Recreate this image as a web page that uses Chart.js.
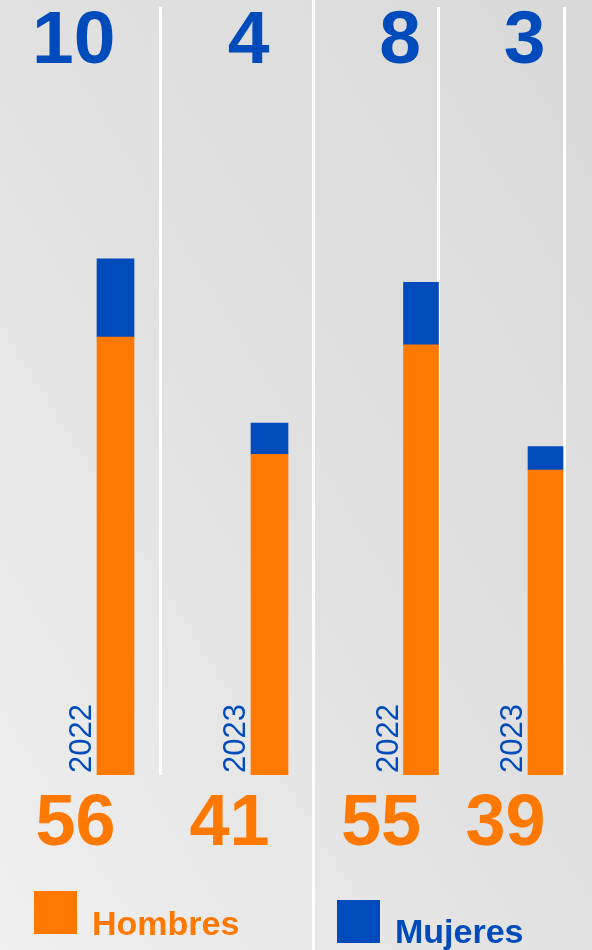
<!DOCTYPE html>
<html>
<head>
<meta charset="utf-8">
<script src="https://cdn.jsdelivr.net/npm/chart.js@4"></script>
<style>
  html, body {
    margin: 0;
    padding: 0;
    width: 592px;
    height: 950px;
    overflow: hidden;
  }
  body {
    position: relative;
    background: linear-gradient(to top right, #f0f0f0 0%, #e2e2e2 45%, #d9d9d9 100%);
    font-family: "Liberation Sans", Arial, sans-serif;
  }
  .divider {
    position: absolute;
    width: 3px;
    background: #ffffff;
  }
  canvas {
    position: absolute;
    top: 0;
  }
  .legend-box {
    position: absolute;
    width: 43px;
    height: 43px;
  }
  .legend-text {
    position: absolute;
    font-weight: bold;
    font-size: 34px;
    line-height: 34px;
    white-space: nowrap;
  }
</style>
</head>
<body>
<div class="divider" style="left:159px; top:7px; height:768px;"></div>
<div class="divider" style="left:312px; top:0; height:950px;"></div>
<div class="divider" style="left:437px; top:7px; height:768px;"></div>
<div class="divider" style="left:563px; top:7px; height:768px;"></div>

<canvas id="leftChart" width="360" height="950" style="left:0;"></canvas>
<canvas id="rightChart" width="320" height="950" style="left:300px;"></canvas>

<div id="legend"></div>

<script>
// Data
const years = ['2022', '2023', '2022', '2023'];
const hombres = [56, 41, 55, 39];
const mujeres = [10, 4, 8, 3];
const seriesNames = ['Hombres', 'Mujeres'];
const seriesColors = ['#ff7800', '#004bbb'];

const FONT = '"Liberation Sans", Arial, sans-serif';

// Labels: year beside each bar, women on top, men at the bottom
const labelPlugin = {
  id: 'barLabels',
  afterDatasetsDraw(chart) {
    const ctx = chart.ctx;
    const base = chart.scales.y.getPixelForValue(0);
    const menMeta = chart.getDatasetMeta(0);
    const womenData = chart.data.datasets[1].data;
    const menData = chart.data.datasets[0].data;

    menMeta.data.forEach((bar, i) => {
      const left = bar.x - bar.width / 2;

      // year, rotated
      ctx.save();
      ctx.translate(left - 6, base);
      ctx.rotate(-Math.PI / 2);
      ctx.font = '31px ' + FONT;
      ctx.fillStyle = seriesColors[1];
      ctx.textAlign = 'left';
      ctx.textBaseline = 'alphabetic';
      ctx.fillText(chart.data.labels[i], 2, 0);
      ctx.restore();

      ctx.save();
      ctx.textAlign = 'right';
      ctx.textBaseline = 'alphabetic';

      ctx.font = 'bold 75px ' + FONT;
      ctx.fillStyle = seriesColors[1];
      ctx.fillText(String(womenData[i]), bar.x, 63);

      ctx.font = 'bold 72px ' + FONT;
      ctx.fillStyle = seriesColors[0];
      ctx.fillText(String(menData[i]), bar.x, 845);
      ctx.restore();
    });
  }
};

function makeChart(id, from, to, padding, thickness) {
  const ctx = document.getElementById(id).getContext('2d');
  return new Chart(ctx, {
    type: 'bar',
    data: {
      labels: years.slice(from, to),
      datasets: [
        {
          label: seriesNames[0],
          data: hombres.slice(from, to),
          backgroundColor: seriesColors[0],
          borderWidth: 0,
          barThickness: thickness
        },
        {
          label: seriesNames[1],
          data: mujeres.slice(from, to),
          backgroundColor: seriesColors[1],
          borderWidth: 0,
          barThickness: thickness
        }
      ]
    },
    options: {
      responsive: false,
      animation: false,
      events: [],
      layout: { padding: padding },
      plugins: {
        legend: { display: false },
        tooltip: { enabled: false }
      },
      scales: {
        x: { stacked: true, display: false, offset: true },
        y: { stacked: true, display: false, min: 0, max: 90 }
      }
    },
    plugins: [labelPlugin]
  });
}

makeChart('leftChart', 0, 2, { top: 71.2, bottom: 175, left: 38.5, right: 13.5 }, 37);
makeChart('rightChart', 2, 4, { top: 71.2, bottom: 175, left: 58.75, right: 12.25 }, 35);

// Legend split under the two panels
const legend = document.getElementById('legend');
const legendPos = [
  { box: [34, 891], text: [92, 906] },
  { box: [337, 900], text: [395, 914] }
];
seriesNames.forEach((name, i) => {
  const box = document.createElement('div');
  box.className = 'legend-box';
  box.style.left = legendPos[i].box[0] + 'px';
  box.style.top = legendPos[i].box[1] + 'px';
  box.style.background = seriesColors[i];
  legend.appendChild(box);

  const txt = document.createElement('div');
  txt.className = 'legend-text';
  txt.style.left = legendPos[i].text[0] + 'px';
  txt.style.top = legendPos[i].text[1] + 'px';
  txt.style.color = seriesColors[i];
  txt.innerText = name;
  legend.appendChild(txt);
});
</script>
</body>
</html>
